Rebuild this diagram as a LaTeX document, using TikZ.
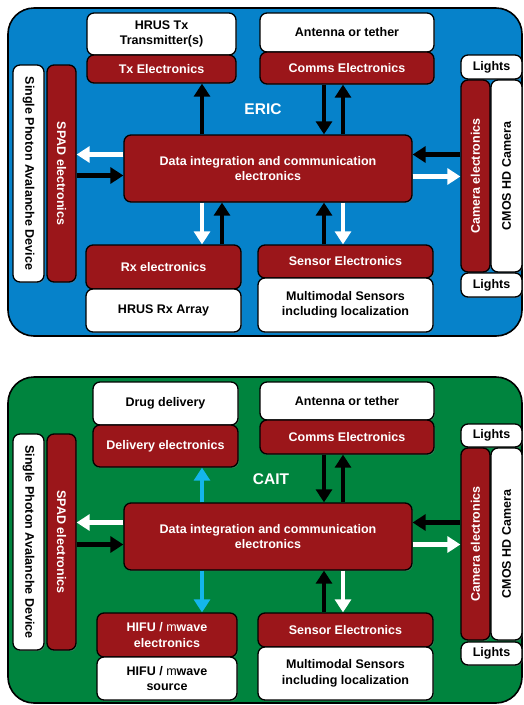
\documentclass[tikz,border=0pt]{standalone}
\usepackage{fontspec}
\setmainfont{Liberation Sans}
\usetikzlibrary{arrows.meta,shadows}
\definecolor{ericblue}{RGB}{6,130,202}
\definecolor{caitgreen}{RGB}{0,132,62}
\definecolor{boxred}{RGB}{155,22,26}
\definecolor{arrowcyan}{RGB}{20,182,235}

\begin{document}
\begin{tikzpicture}[x=1pt,y=-1pt,
    font=\fontsize{12.5}{15.5}\selectfont\bfseries,
    box/.style={draw=black, line width=1.3pt, rounded corners=7pt, inner sep=0pt, align=center,
      drop shadow={shadow xshift=1pt, shadow yshift=-1.2pt, opacity=0.4}},
    white box/.style={box, fill=white},
    red box/.style={box, fill=boxred, text=white},
    sz/.style 2 args={minimum width=#1pt, minimum height=#2pt},
    panel/.style={draw=black, line width=1.6pt, rounded corners=26pt},
    link/.style={line width=4.8pt, -{Triangle[width=16pt,length=13pt]}},
    title/.style={text=white, font=\fontsize{15.5}{18}\selectfont\bfseries}]

\useasboundingbox (0,0) rectangle (524,705);

% ERIC
\draw[panel, fill=ericblue] (8,8) rectangle (522,336);
\node[title] (eName) at (263,109) {ERIC};

\node[white box, sz={149}{42}] (eTxW) at (161.5,34) {HRUS Tx\\Transmitter(s)};
\node[red box, sz={149}{28}] (eTxE) at (161.5,69) {Tx Electronics};
\node[white box, sz={174}{39}] (eAnt) at (347,32.5) {Antenna or tether};
\node[red box, sz={174}{32}] (eComms) at (347,68) {Comms Electronics};
\node[white box, sz={61}{24}] (eLightsA) at (491.5,67) {Lights};
\node[red box, rotate=90, sz={192}{29}] (eCamE) at (475.5,176) {Camera electronics};
\node[white box, rotate=90, sz={192}{31}] (eCmos) at (506.5,176) {CMOS HD Camera};
\node[white box, sz={61}{24}] (eLightsB) at (491.5,285) {Lights};
\node[red box, rotate=-90, sz={217}{29}] (eSpad) at (61.5,173.5) {SPAD electronics};
\node[white box, rotate=-90, sz={217}{31}] (eSpd) at (28.5,173.5) {Single Photon Avalanche Device};
\node[red box, sz={288}{67}] (eData) at (268,168.5) {Data integration and communication\\electronics};
\node[red box, sz={155}{44}] (eRxE) at (163.5,267) {Rx electronics};
\node[white box, sz={155}{43}] (eRxA) at (163.5,310.5) {HRUS Rx Array};
\node[red box, sz={175}{33}] (eSens) at (345.5,261.5) {Sensor Electronics};
\node[white box, sz={175}{54}] (eMulti) at (345.5,305) {Multimodal Sensors\\including localization};

\draw[link, black] ([shift={(-66,0)}]eData.north) -- ([shift={(-66,0)}]eData.north |- eTxE.south);
\draw[link, black] ([shift={(56,0)}]eData.north |- eComms.south) -- ([shift={(56,0)}]eData.north);
\draw[link, black] ([shift={(75,0)}]eData.north) -- ([shift={(75,0)}]eData.north |- eComms.south);
\draw[link, white] ([shift={(0,-14)}]eData.west) -- ([shift={(0,-14)}]eData.west -| eSpad.north);
\draw[link, black] ([shift={(0,7)}]eData.west -| eSpad.north) -- ([shift={(0,7)}]eData.west);
\draw[link, black] ([shift={(0,-14)}]eData.east -| eCamE.north) -- ([shift={(0,-14)}]eData.east);
\draw[link, white] ([shift={(0,8)}]eData.east) -- ([shift={(0,8)}]eData.east -| eCamE.north);
\draw[link, white] ([shift={(-66,0)}]eData.south) -- ([shift={(-66,0)}]eData.south |- eRxE.north);
\draw[link, black] ([shift={(-46,0)}]eData.south |- eRxE.north) -- ([shift={(-46,0)}]eData.south);
\draw[link, black] ([shift={(56,0)}]eData.south |- eSens.north) -- ([shift={(56,0)}]eData.south);
\draw[link, white] ([shift={(75,0)}]eData.south) -- ([shift={(75,0)}]eData.south |- eSens.north);

% CAIT
\begin{scope}[shift={(0,369)}]
\draw[panel, fill=caitgreen] (8,8) rectangle (522,334);
\node[title] (cName) at (271,110) {CAIT};

\node[white box, sz={145}{43}] (cDrug) at (165.5,34.5) {Drug delivery};
\node[red box, sz={145}{42}] (cDeliv) at (165.5,77) {Delivery electronics};
\node[white box, sz={174}{38}] (cAnt) at (347,32) {Antenna or tether};
\node[red box, sz={174}{34}] (cComms) at (347,68) {Comms Electronics};
\node[white box, sz={61}{23}] (cLightsA) at (491.5,66.5) {Lights};
\node[red box, rotate=90, sz={192}{29}] (cCamE) at (475.5,175) {Camera electronics};
\node[white box, rotate=90, sz={192}{31}] (cCmos) at (506.5,175) {CMOS HD Camera};
\node[white box, sz={61}{23}] (cLightsB) at (491.5,284.5) {Lights};
\node[red box, rotate=-90, sz={216}{29}] (cSpad) at (61.5,173) {SPAD electronics};
\node[white box, rotate=-90, sz={216}{31}] (cSpd) at (28.5,173) {Single Photon Avalanche Device};
\node[red box, sz={288}{67}] (cData) at (268,167.5) {Data integration and communication\\electronics};
\node[red box, sz={140}{44}] (cHifuE) at (167,266) {HIFU / \textmd{m}wave\\electronics};
\node[white box, sz={140}{43}] (cHifuS) at (167,309.5) {HIFU / \textmd{m}wave\\source};
\node[red box, sz={175}{34}] (cSens) at (345.5,261) {Sensor Electronics};
\node[white box, sz={175}{53}] (cMulti) at (345.5,304.5) {Multimodal Sensors\\including localization};

\draw[link, arrowcyan] ([shift={(-66,0)}]cData.north) -- ([shift={(-66,0)}]cData.north |- cDeliv.south);
\draw[link, black] ([shift={(56,0)}]cData.north |- cComms.south) -- ([shift={(56,0)}]cData.north);
\draw[link, black] ([shift={(75,0)}]cData.north) -- ([shift={(75,0)}]cData.north |- cComms.south);
\draw[link, white] ([shift={(0,-14)}]cData.west) -- ([shift={(0,-14)}]cData.west -| cSpad.north);
\draw[link, black] ([shift={(0,8)}]cData.west -| cSpad.north) -- ([shift={(0,8)}]cData.west);
\draw[link, black] ([shift={(0,-14)}]cData.east -| cCamE.north) -- ([shift={(0,-14)}]cData.east);
\draw[link, white] ([shift={(0,8)}]cData.east) -- ([shift={(0,8)}]cData.east -| cCamE.north);
\draw[link, arrowcyan] ([shift={(-66,0)}]cData.south) -- ([shift={(-66,0)}]cData.south |- cHifuE.north);
\draw[link, black] ([shift={(56,0)}]cData.south |- cSens.north) -- ([shift={(56,0)}]cData.south);
\draw[link, white] ([shift={(75,0)}]cData.south) -- ([shift={(75,0)}]cData.south |- cSens.north);
\end{scope}

\end{tikzpicture}
\end{document}
